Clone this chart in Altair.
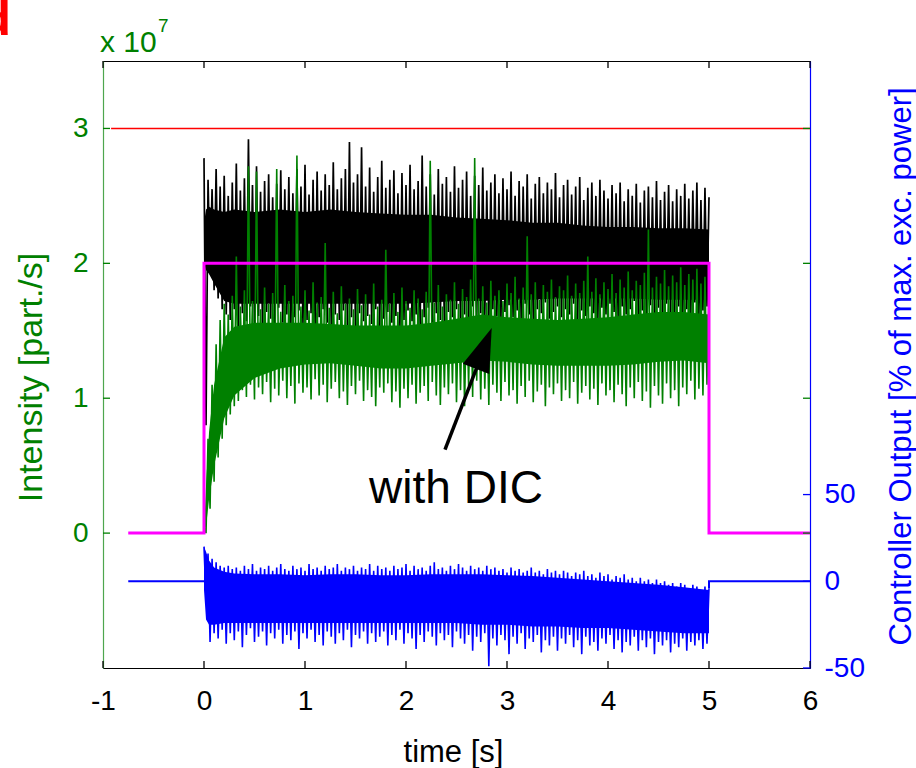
import altair as alt
import pandas as pd

GREEN = "#008000"
BLUE = "#0000FF"
MAGENTA = "#FF00FF"
RED = "#FF0000"
FONT = "Liberation Sans"

# ---------------- axis ticks ----------------
x_ticks = [-1, 0, 1, 2, 3, 4, 5, 6]
left_ticks = [0, 1, 2, 3]            # intensity, x 10^7 part./s
right_ticks = [-50, 0, 50]           # controller output, %

# ---------------- noisy traces: a peak and a trough every 0.04 s ----------------
col_t = [round(0.04 * i, 2) for i in range(126)]
HALF_STEP = 0.02                      # troughs sit between consecutive peaks

black_hi = [2.78,
            2.62, 2.55, 2.70, 2.57, 2.65, 2.50, 2.60, 2.74, 2.54, 2.63,
            2.92,
            2.58, 2.72, 2.53, 2.61, 2.66, 2.49, 2.59, 2.69, 2.55,
            2.64, 2.52, 2.70, 2.57, 2.73, 2.51, 2.62, 2.68, 2.54, 2.66,
            2.58, 2.75, 2.55, 2.63, 2.70,
            2.90,
            2.60, 2.66,
            2.86,
            2.57, 2.71, 2.53, 2.64, 2.76, 2.56, 2.62, 2.69, 2.52, 2.67, 2.58, 2.73, 2.55, 2.61,
            2.80,
            2.57, 2.66, 2.51, 2.70, 2.59, 2.64, 2.53, 2.72, 2.56, 2.62,
            2.68, 2.50, 2.65, 2.58, 2.71, 2.54, 2.60, 2.66, 2.52, 2.63,
            2.55, 2.68, 2.50, 2.61, 2.57, 2.66, 2.48, 2.59, 2.64, 2.52,
            2.60, 2.55, 2.67, 2.49, 2.58, 2.62, 2.51, 2.57, 2.64, 2.47,
            2.56, 2.60, 2.50, 2.62, 2.54,
            2.48, 2.58, 2.52, 2.60, 2.46, 2.55, 2.50, 2.59, 2.45, 2.54,
            2.57, 2.49, 2.61, 2.47, 2.53, 2.58, 2.46, 2.55, 2.50, 2.59,
            2.48, 2.54, 2.60, 2.47, 2.56, 2.49]
black_lo = [0.80, 1.92, 1.80, 1.74, 1.66, 1.62,
            1.58, 1.66, 1.52, 1.63, 1.57, 1.68, 1.55, 1.61, 1.50, 1.64,
            1.59, 1.54, 1.67, 1.56, 1.62, 1.51, 1.60, 1.65, 1.55, 1.58,
            1.63, 1.53, 1.60, 1.66, 1.56, 1.52, 1.62, 1.58, 1.65, 1.54,
            1.60, 1.50, 1.63, 1.57, 1.61, 1.55, 1.66, 1.52, 1.59, 1.64,
            1.56, 1.61, 1.53, 1.58, 1.65,
            1.57, 1.62, 1.54, 1.60, 1.67, 1.56, 1.63, 1.58, 1.52, 1.64,
            1.60, 1.66, 1.55, 1.62, 1.58, 1.68, 1.57, 1.63, 1.60, 1.55,
            1.66, 1.61, 1.58, 1.64, 1.69,
            1.60, 1.65, 1.57, 1.70, 1.62, 1.58, 1.66, 1.63, 1.71, 1.59,
            1.64, 1.68, 1.60, 1.66, 1.62, 1.70, 1.57, 1.65, 1.61, 1.68,
            1.63, 1.59, 1.67, 1.62, 1.70,
            1.64, 1.60, 1.68, 1.62, 1.66, 1.72, 1.61, 1.65, 1.59, 1.69,
            1.63, 1.67, 1.60, 1.70, 1.64, 1.62, 1.68, 1.58, 1.66, 1.63,
            1.71, 1.61, 1.65, 1.68, 1.64]

green_hi = [0.05, 0.70, 1.10, 1.40, 1.58, 1.70, 1.62, 1.76, 2.05, 1.68, 1.80,
            2.72, 1.72, 2.68,
            1.66, 1.82, 1.70, 1.78,
            2.70,
            1.64, 1.84, 1.72, 1.76,
            2.80,
            1.68, 1.80, 1.65, 1.86, 1.71, 1.75,
            2.15,
            1.67, 1.79, 1.63, 1.83, 1.70, 1.74, 1.66, 1.81, 1.69, 1.77, 1.62, 1.85, 1.68, 1.73,
            2.10,
            1.70, 1.78, 1.64, 1.82, 1.72, 1.67, 1.80, 1.74, 1.66, 1.79,
            2.76,
            1.71, 1.84, 1.68, 1.77, 1.73, 1.86, 1.70, 1.81, 1.75, 1.88,
            2.78,
            1.74, 1.83, 1.71, 1.87, 1.76, 1.80, 1.72, 1.85, 1.78, 1.90, 1.74, 1.82,
            2.20,
            1.77, 1.86, 1.73, 1.84, 1.79, 1.88, 1.75, 1.83, 1.80, 1.91, 1.76, 1.85, 1.78, 1.87,
            2.05,
            1.79, 1.89, 1.77, 1.86, 1.81, 1.92, 1.78, 1.88, 1.82, 1.94, 1.80, 1.87, 1.84, 1.93,
            2.25,
            1.82, 1.90, 1.85, 1.95, 1.83, 1.91, 1.86, 1.97, 1.84, 1.92, 1.88, 1.96, 1.85, 1.90, 1.78]
green_lo = [0.00, 0.18, 0.38, 0.56, 0.70, 0.80, 0.88, 0.94,
            0.98, 1.06, 1.01, 1.10, 0.99, 1.08, 1.03, 1.12, 0.97, 1.07,
            1.02, 1.13, 1.00, 1.09, 0.96, 1.11, 1.04, 1.08, 0.99, 1.14,
            1.02, 1.10, 0.97, 1.07, 1.12, 1.00, 1.05, 0.95, 1.09, 1.03,
            1.13, 0.98, 1.06, 1.01, 0.94, 1.08, 1.04, 1.11, 0.97, 1.05,
            0.93, 1.07, 1.00, 1.10, 0.96, 1.04, 1.09, 0.98, 1.12, 1.02,
            0.95, 1.08, 1.03, 1.11, 0.97, 1.06, 0.94, 1.09, 1.01, 1.13,
            0.99, 1.07, 0.95, 1.10, 1.04, 0.98, 1.12, 1.02, 1.06, 0.96,
            1.09, 1.01, 1.13, 0.97, 1.05, 1.10, 0.94, 1.08, 1.03, 1.11,
            0.98, 1.06, 1.00, 1.12, 0.96, 1.04, 1.09, 0.99, 1.07, 0.95,
            1.11, 1.02, 1.06, 0.97, 1.10, 1.03, 0.94, 1.08, 1.00, 1.12,
            0.98, 1.05, 0.93, 1.09, 1.02, 0.96, 1.11, 1.00, 1.06, 0.94,
            1.08, 1.03, 1.13, 0.99, 1.07, 1.02, 1.10, 1.04]

blue_hi = [20, 16, 13, 11, 9, 8, 9, 7,
           8, 6, 9, 7, 10, 6, 8, 7, 9, 6, 8, 10, 7, 6, 9, 7, 8, 6, 10, 7,
           8, 6, 9, 7, 8, 10, 6, 8, 7, 9, 6, 8, 7, 10, 6, 9, 7, 8, 6, 9,
           7, 8, 10, 6, 9, 7, 8, 6, 9, 11, 7, 8, 6, 9, 7, 10, 8, 6, 9, 7,
           8, 6, 9, 7, 8, 6, 7, 5, 8, 6, 7, 5, 6, 8, 5, 6, 4, 7, 5, 6,
           4, 6, 5, 3, 5, 4, 6, 3, 4, 2, 5, 3, 4, 1, 3, 2, 4, 1, 2, 0,
           2, 0, 1, -1, 1, -1, 0, -2, -1, -3, -1, -2, -4, -2, -3, -5, -3, -4]
blue_lo = [-10, -35, -30, -33,
           -28, -36, -30, -34, -29, -38, -31, -27, -35, -32, -29, -37, -30, -33, -28, -36, -31, -34, -29, -39,
           -30, -33, -28, -35, -31, -37, -29, -32, -36, -30, -34, -28, -38, -31, -33, -29, -36, -30, -35, -32,
           -29, -37, -31, -34, -28, -36, -30, -33, -39, -31, -35, -29, -32, -37, -30, -34, -31, -38, -29, -33,
           -36, -31, -40, -32, -35, -30, -49, -33, -37, -31, -34, -42, -32, -36, -30, -39, -33, -35, -31, -41,
           -34, -37, -32, -40, -33, -36, -31, -38, -34, -42, -32, -37, -35, -40, -33, -36, -31, -39, -34, -41,
           -35, -37, -32, -40, -34, -38, -33, -42, -35, -37, -34, -41, -36, -38, -33, -40, -35, -37, -34, -39,
           -36, -33]

# ---------------- solid cores of the traces ----------------
core_t = [0.0, 0.02, 0.05, 0.1, 0.2, 0.3, 0.5, 0.75, 1.0, 1.25, 1.5, 1.75, 2.0,
          2.25, 2.5, 2.75, 3.0, 3.25, 3.5, 3.75, 4.0, 4.25, 4.5, 4.75, 5.0]
black_core_hi = [2.30, 2.40, 2.42, 2.40, 2.38, 2.40, 2.38, 2.40, 2.38, 2.40, 2.38, 2.37, 2.36,
                 2.36, 2.34, 2.33, 2.32, 2.30, 2.30, 2.28, 2.27, 2.27, 2.26, 2.26, 2.25]
black_core_lo = [2.00, 1.95, 1.92, 1.85, 1.72, 1.70, 1.70, 1.70, 1.70, 1.70, 1.70, 1.70, 1.70,
                 1.71, 1.72, 1.72, 1.73, 1.73, 1.74, 1.74, 1.74, 1.74, 1.73, 1.73, 1.73]
green_core_hi = [0.00, 0.35, 0.75, 1.10, 1.45, 1.53, 1.56, 1.56, 1.56, 1.55, 1.54, 1.54, 1.54,
                 1.56, 1.59, 1.62, 1.60, 1.59, 1.58, 1.59, 1.60, 1.62, 1.64, 1.64, 1.62]
green_core_lo = [0.00, 0.05, 0.25, 0.50, 0.85, 1.02, 1.15, 1.22, 1.25, 1.26, 1.24, 1.22, 1.22,
                 1.24, 1.26, 1.28, 1.27, 1.25, 1.24, 1.24, 1.24, 1.25, 1.27, 1.28, 1.26]
blue_core_hi = [20, 17, 12, 8, 5.5, 4.5, 4, 4, 3.5, 4, 4, 3.5, 3.5,
                4, 4, 4, 3.5, 3, 2, 1, 0, -1, -2, -3.5, -5]
blue_core_lo = [-5, -22, -25, -25, -24, -24, -24, -24, -24, -24, -24, -24, -24,
                -24, -24, -25, -25, -26, -26, -27, -27, -28, -29, -30, -30]

# ---------------- set-point / excitation steps ----------------
magenta_t = [-0.75, 0.0, 0.0, 5.0, 5.0, 6.0]
magenta_v = [0, 0, 2, 2, 0, 0]
red_t = [-0.92, 6.0]
red_v = [3, 3]
blue_step_t = [-0.75, 0.0, 5.0, 5.0, 6.0]
blue_step_u = [0, 0, -4, 0, 0]
blue_step_seg = [0, 0, 1, 1, 1]

# ---------------- annotation ----------------
arrow_t = [2.386, 2.715]
arrow_v = [0.619, 1.255]
head_t, head_v, head_angle = 2.771, 1.369, 21.1
note_t, note_v = 2.495, 0.224

# ---------------- scales ----------------
W, H = 707, 607
xs = alt.Scale(domain=[-1, 6], nice=False, zero=False)
yl = alt.Scale(domain=[-1, 3.5], nice=False, zero=False)
yr = alt.Scale(domain=[-50, 300], nice=False, zero=False)

# plain hyphen for negative tick labels
HYPHEN_LABEL = "datum.value < 0 ? '-' + abs(datum.value) : '' + datum.value"

x_axis = alt.Axis(values=x_ticks, labelExpr=HYPHEN_LABEL, ticks=False, grid=False,
                  labelFontSize=28, labelColor="black", labelPadding=19, labelFlush=False,
                  domainColor="black", domainWidth=1,
                  title="time [s]", titleFontSize=31, titleFontWeight="normal",
                  titleColor="black", titleX=350, titleY=84, titleBaseline="middle",
                  titleAlign="center")
left_axis = alt.Axis(values=left_ticks, labelExpr=HYPHEN_LABEL, orient="left", ticks=False,
                     grid=False, labelFontSize=28, labelColor=GREEN, labelPadding=15,
                     labelFlush=False, domainColor="#4ea64e", domainWidth=1.2,
                     title="Intensity [part./s]", titleFontSize=34, titleFontWeight="normal",
                     titleColor=GREEN, titleAngle=270, titleX=-72, titleY=316,
                     titleAlign="center", titleBaseline="middle")
right_axis = alt.Axis(values=right_ticks, labelExpr=HYPHEN_LABEL, orient="right", ticks=False,
                      grid=False, labelFontSize=28, labelColor=BLUE, labelPadding=14,
                      labelFlush=False, domainColor=BLUE, domainWidth=1.2,
                      title="Controller Output [% of max. exc. power]", titleFontSize=31,
                      titleFontWeight="normal", titleColor=BLUE, titleAngle=270,
                      titleX=91, titleY=305, titleAlign="center", titleBaseline="middle")


def band(t, lo, hi):
    return pd.DataFrame({"t": t, "lo": lo, "hi": hi})


def zigzag(hi, lo, key):
    """Alternate peaks and troughs into one sampled trace, ending at t = 5 s."""
    rows = []
    for t, h, l in zip(col_t, hi, lo):
        rows.append({"t": t, key: h})
        if t + HALF_STEP <= 5.0:
            rows.append({"t": round(t + HALF_STEP, 3), key: l})
    df = pd.DataFrame(rows)
    df["i"] = range(len(df))
    return df


def xenc():
    # every layer carries the same axis so the shared x axis is kept
    return alt.X("t:Q", scale=xs, axis=x_axis)


# ---------------- intensity traces (left scale) ----------------
black_core = alt.Chart(band(core_t, black_core_lo, black_core_hi)).mark_area(color="black").encode(
    x=xenc(), y=alt.Y("lo:Q", scale=yl, axis=left_axis), y2="hi:Q")
black_trace = alt.Chart(zigzag(black_hi, black_lo, "v")).mark_line(
    color="black", strokeWidth=1.7).encode(
    x=xenc(), y=alt.Y("v:Q", scale=yl, axis=None), order="i:Q")
green_core = alt.Chart(band(core_t, green_core_lo, green_core_hi)).mark_area(color=GREEN).encode(
    x=xenc(), y=alt.Y("lo:Q", scale=yl, axis=None), y2="hi:Q")
green_trace = alt.Chart(zigzag(green_hi, green_lo, "v")).mark_line(
    color=GREEN, strokeWidth=1.6).encode(
    x=xenc(), y=alt.Y("v:Q", scale=yl, axis=None), order="i:Q")
red_line = alt.Chart(pd.DataFrame({"t": red_t, "v": red_v})).mark_line(
    color=RED, strokeWidth=1.6).encode(x=xenc(), y=alt.Y("v:Q", scale=yl, axis=None))
magenta_line = alt.Chart(pd.DataFrame({"t": magenta_t, "v": magenta_v,
                                       "i": list(range(len(magenta_t)))})).mark_line(
    color=MAGENTA, strokeWidth=3).encode(
    x=xenc(), y=alt.Y("v:Q", scale=yl, axis=None), order="i:Q")
arrow_line = alt.Chart(pd.DataFrame({"t": [arrow_t[0]], "t2": [arrow_t[1]],
                                     "v": [arrow_v[0]], "v2": [arrow_v[1]]})).mark_rule(
    color="black", strokeWidth=3.5).encode(
    x=xenc(), x2="t2:Q", y=alt.Y("v:Q", scale=yl, axis=None), y2="v2:Q")
arrow_head = alt.Chart(pd.DataFrame({"t": [head_t], "v": [head_v]})).mark_point(
    shape="M0,-1L0.65,1L-0.65,1Z", filled=True, color="black", opacity=1,
    size=1900, angle=head_angle, strokeWidth=0).encode(
    x=xenc(), y=alt.Y("v:Q", scale=yl, axis=None))
note = alt.Chart(pd.DataFrame({"t": [note_t], "v": [note_v], "s": ["with DIC"]})).mark_text(
    fontSize=46, font=FONT, color="black", align="center", baseline="alphabetic").encode(
    x=xenc(), y=alt.Y("v:Q", scale=yl, axis=None), text="s:N")

# ---------------- controller output (right scale) ----------------
blue_core = alt.Chart(band(core_t, blue_core_lo, blue_core_hi)).mark_area(color=BLUE).encode(
    x=xenc(), y=alt.Y("lo:Q", scale=yr, axis=right_axis), y2="hi:Q")
blue_trace = alt.Chart(zigzag(blue_hi, blue_lo, "u")).mark_line(
    color=BLUE, strokeWidth=1.6).encode(
    x=xenc(), y=alt.Y("u:Q", scale=yr, axis=None), order="i:Q")
blue_step = alt.Chart(pd.DataFrame({"t": blue_step_t, "u": blue_step_u, "seg": blue_step_seg,
                                    "i": list(range(len(blue_step_t)))})).mark_line(
    color=BLUE, strokeWidth=2).encode(
    x=xenc(), y=alt.Y("u:Q", scale=yr, axis=None), detail="seg:N", order="i:Q")

# ---------------- inward tick marks ----------------
xt = pd.DataFrame({"t": x_ticks})
bottom_ticks = alt.Chart(xt).mark_rule(color="black", strokeWidth=1.3).encode(
    x=xenc(), y=alt.value(H), y2=alt.value(H - 7))
top_ticks = alt.Chart(xt).mark_rule(color="black", strokeWidth=1.3).encode(
    x=xenc(), y=alt.value(0), y2=alt.value(7))
lt = pd.DataFrame({"v": left_ticks})
left_tick_marks = alt.Chart(lt).mark_rule(color=GREEN, strokeWidth=1.3).encode(
    y=alt.Y("v:Q", scale=yl, axis=None), x=alt.value(0), x2=alt.value(7))
left_tick_marks_r = alt.Chart(lt).mark_rule(color=GREEN, strokeWidth=1.3).encode(
    y=alt.Y("v:Q", scale=yl, axis=None), x=alt.value(W), x2=alt.value(W - 7))
right_tick_marks = alt.Chart(pd.DataFrame({"u": right_ticks})).mark_rule(
    color=BLUE, strokeWidth=1.3).encode(
    y=alt.Y("u:Q", scale=yr, axis=None), x=alt.value(W), x2=alt.value(W - 7))

# ---------------- exponent and panel letter ----------------
exp_base = alt.Chart(pd.DataFrame({"s": ["x 10"]})).mark_text(
    fontSize=30, font=FONT, color=GREEN, align="left", baseline="alphabetic").encode(
    x=alt.value(-3), y=alt.value(-9), text="s:N")
exp_sup = alt.Chart(pd.DataFrame({"s": ["7"]})).mark_text(
    fontSize=19, font=FONT, color=GREEN, align="left", baseline="alphabetic").encode(
    x=alt.value(55), y=alt.value(-29), text="s:N")
panel = alt.Chart(pd.DataFrame({"s": ["d"]})).mark_text(
    fontSize=50, font=FONT, fontWeight="bold", color=RED, align="right",
    baseline="alphabetic").encode(
    x=alt.value(-92), y=alt.value(-26), text="s:N")

chart = alt.layer(
    black_core, black_trace, green_core, green_trace, red_line, magenta_line,
    arrow_line, arrow_head, note,
    blue_core, blue_trace, blue_step,
    bottom_ticks, top_ticks, left_tick_marks, left_tick_marks_r, right_tick_marks,
    exp_base, exp_sup, panel,
).resolve_scale(y="independent").properties(
    width=W, height=H,
    autosize=alt.AutoSizeParams(type="none"),
    padding={"left": 103, "top": 61, "right": 916 - 103 - W, "bottom": 768 - 61 - H},
).configure(font=FONT).configure_view(stroke="black", strokeWidth=1)

chart.save("out.html", embed_options={"renderer": "svg", "actions": False})
